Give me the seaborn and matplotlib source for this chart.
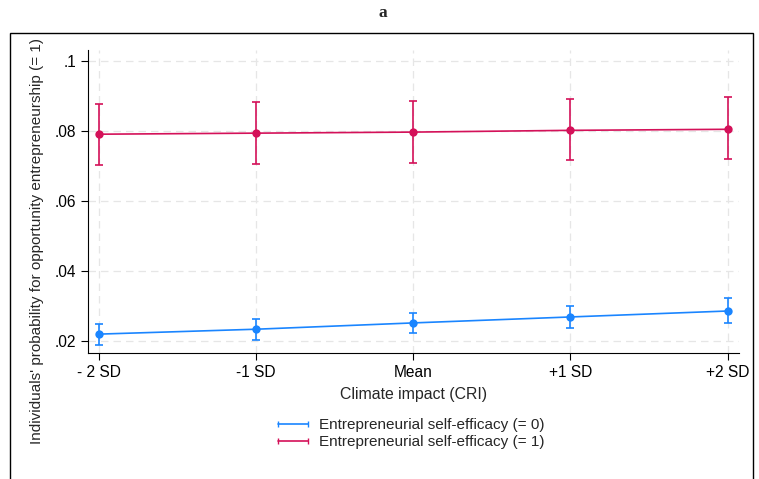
import numpy as np
import pandas as pd
import matplotlib
matplotlib.use("Agg")
import matplotlib.pyplot as plt
import seaborn as sns
from matplotlib.lines import Line2D
from matplotlib.legend_handler import HandlerLine2D
from matplotlib.patches import Rectangle

# values
levels = ["- 2 SD", "-1 SD", "Mean", "+1 SD", "+2 SD"]
ese0_mean = [0.0220, 0.0234, 0.0252, 0.0269, 0.0286]
ese0_low = [0.0189, 0.0203, 0.0223, 0.0237, 0.0252]
ese0_high = [0.0249, 0.0263, 0.0280, 0.0300, 0.0323]
ese1_mean = [0.0791, 0.0794, 0.0797, 0.0802, 0.0805]
ese1_low = [0.0702, 0.0707, 0.0710, 0.0716, 0.0719]
ese1_high = [0.0877, 0.0882, 0.0885, 0.0891, 0.0897]
yticks = [0.02, 0.04, 0.06, 0.08, 0.1]
ytick_labels = [".02", ".04", ".06", ".08", ".1"]

blue = "#1a85ff"
red = "#d41159"
group_names = ["Entrepreneurial self-efficacy (= 0)", "Entrepreneurial self-efficacy (= 1)"]

df = pd.DataFrame({
    "x": list(range(len(levels))) * 2,
    "margin": ese0_mean + ese1_mean,
    "low": ese0_low + ese1_low,
    "high": ese0_high + ese1_high,
    "group": [group_names[0]] * 5 + [group_names[1]] * 5,
})

sns.set_style("white")
plt.rcParams["font.family"] = ["Liberation Sans", "DejaVu Sans"]

fig = plt.figure(figsize=(7.59, 4.79), dpi=100)
ax = fig.add_axes([0.116, 0.263, 0.857, 0.633])

palette = {group_names[0]: blue, group_names[1]: red}
sns.lineplot(data=df, x="x", y="margin", hue="group", palette=palette,
             marker="o", markersize=6, markeredgewidth=0, linewidth=1.2,
             legend=False, ax=ax)
for name, color in palette.items():
    sub = df[df["group"] == name]
    ax.errorbar(sub["x"], sub["margin"],
                yerr=[sub["margin"] - sub["low"], sub["high"] - sub["margin"]],
                fmt="none", ecolor=color, elinewidth=1.2, capsize=3, capthick=1.2)

ax.set_xlim(-0.07, 4.07)
ax.set_ylim(0.0166, 0.1032)
ax.set_xticks(range(len(levels)))
ax.set_xticklabels(levels)
ax.set_yticks(yticks)
ax.set_yticklabels(ytick_labels)
ax.tick_params(axis="both", direction="out", length=5, width=0.8,
               labelsize=11.2, colors="black", left=True, bottom=True)
ax.grid(True, linestyle=(0, (6, 4)), color="#e6e6e6", linewidth=0.9)
ax.set_axisbelow(True)
for side in ["top", "right"]:
    ax.spines[side].set_visible(False)
for side in ["left", "bottom"]:
    ax.spines[side].set_color("black")
    ax.spines[side].set_linewidth(0.8)

ax.set_xlabel("Climate impact (CRI)", fontsize=11.4, labelpad=5)
ax.set_ylabel("Individuals' probability for opportunity entrepreneurship (= 1)",
              fontsize=11)
ax.yaxis.set_label_coords(-0.068, 0.37)

handles = [Line2D([], [], color=blue, lw=1.2, marker="|", markersize=5),
           Line2D([], [], color=red, lw=1.2, marker="|", markersize=5)]
fig.legend(handles, group_names, loc="center", bbox_to_anchor=(0.539, 0.095),
           frameon=False, fontsize=11, handlelength=2.55, handletextpad=0.45,
           labelspacing=0.2, handler_map={Line2D: HandlerLine2D(numpoints=2)})

fig.text(0.505, 0.972, "a", ha="center", va="center", fontsize=12.5,
         fontweight="bold", family=["Liberation Serif", "DejaVu Serif"])

frame = Rectangle((10 / 759, -0.05), 743 / 759, 0.05 + (479 - 33) / 479,
                  transform=fig.transFigure, fill=False, edgecolor="black",
                  linewidth=1.0, clip_on=False)
fig.patches.append(frame)

fig.savefig("out.png", dpi=100)
